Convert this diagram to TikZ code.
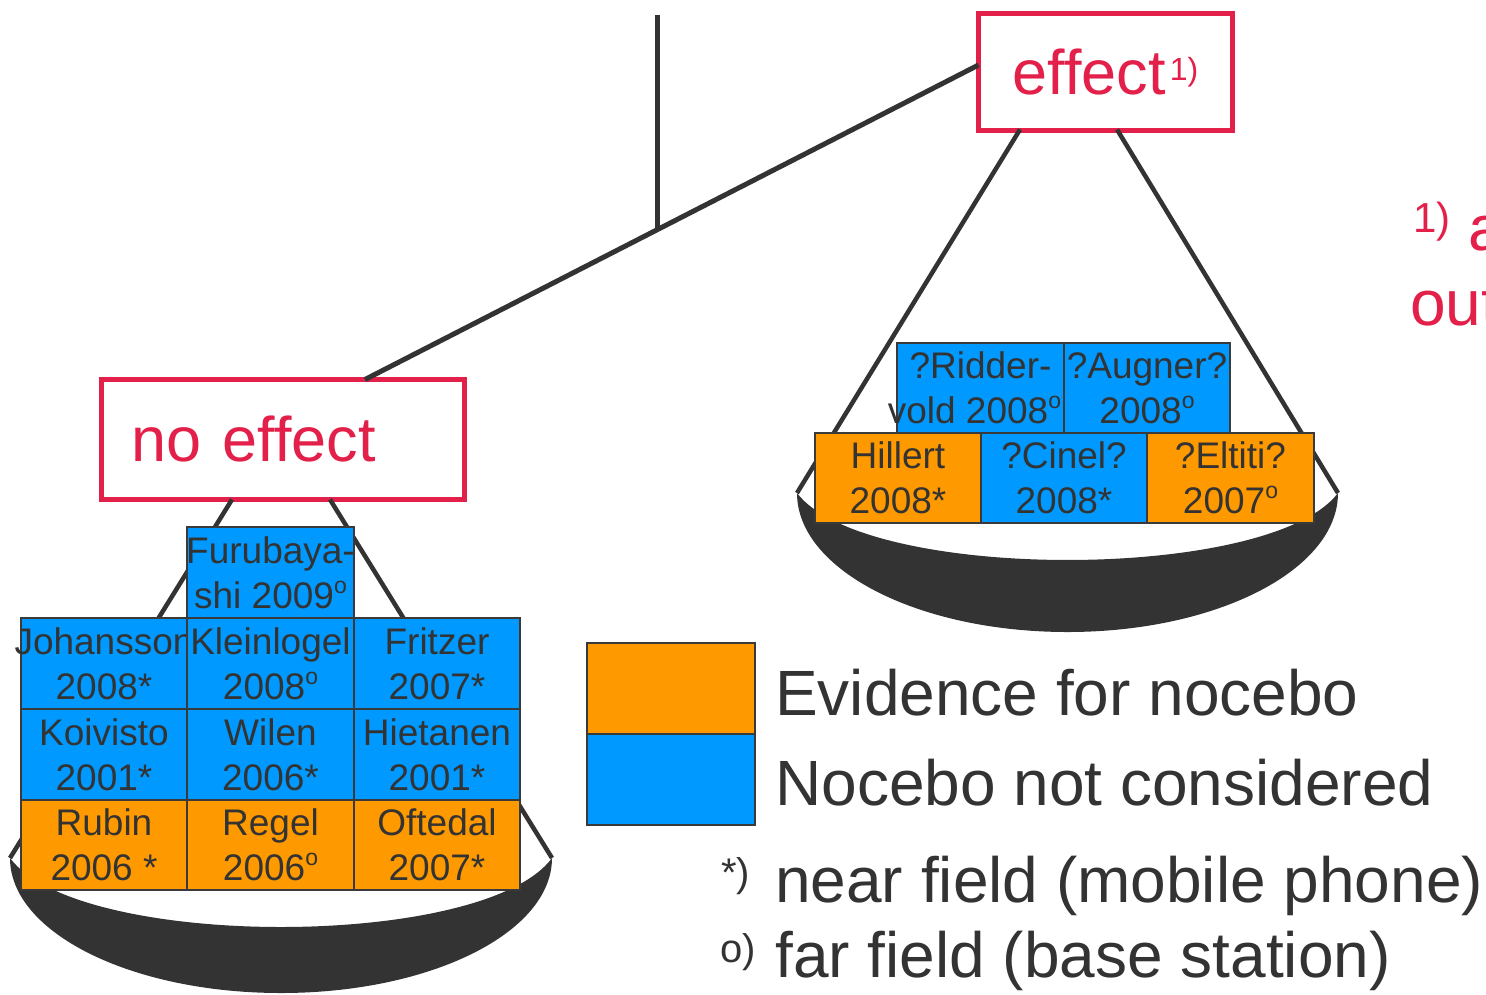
\documentclass[tikz,border=0pt]{standalone}
\usepackage{fontspec}
\setmainfont{Liberation Sans}
\usetikzlibrary{calc}
\definecolor{ink}{HTML}{333333}
\definecolor{alarm}{HTML}{E22049}
\definecolor{evid}{HTML}{FF9900}
\definecolor{nocons}{HTML}{0099FF}
\definecolor{edge}{HTML}{3A3A3A}
\newcommand{\supmark}[3]{\raisebox{#2}{\fontsize{#1}{#1}\selectfont #3}}
\newcommand{\farf}{\supmark{23}{15pt}{o}}

\begin{document}
\begin{tikzpicture}[x=1pt, y=-1pt,
	study/.style={draw=edge, line width=1.6pt, minimum width=166.5pt, minimum height=90.5pt, inner sep=0pt, align=center, text=ink, font=\fontsize{37}{45}\selectfont},
	nocebo/.style={study, fill=evid},
	notcons/.style={study, fill=nocons},
	verdict/.style={draw=alarm, line width=5pt, text=alarm, inner sep=0pt, font=\fontsize{63}{70}\selectfont},
	rope/.style={draw=ink, line width=4.5pt},
	legend/.style={anchor=base west, inner sep=0pt, text=ink, font=\fontsize{64}{70}\selectfont}]
			%%%%% START %%%%%
			\useasboundingbox (0, 0) rectangle (1486, 994);
			\fill[white] (0, 0) rectangle (1486, 994);
			\clip (0, 0) rectangle (1486, 994);
			
			\node[verdict, minimum width=363pt, minimum height=120pt, text width=303pt, align=left] (noeffect) at (283, 439.5) {no effect};
			\node[verdict, minimum width=254pt, minimum height=117pt] (effect) at (1105.5, 72) {effect\hspace{4pt}\supmark{32}{14pt}{1)}};
			
			% beam and post
			\coordinate (top) at (657, 15);
			\coordinate (pivot) at (657, 228);
			\coordinate (beamL) at (365, 379.5);
			\coordinate (beamR) at (978.5, 65);
			\draw[rope, line width=5pt] (top) -- (pivot);
			\draw[rope, line width=5pt] (beamL) -- (beamR);
			
			% left pan
			\coordinate (hookLa) at (232, 499.5);
			\coordinate (hookLb) at (330, 499.5);
			\coordinate (panLa) at (10, 858);
			\coordinate (panLb) at (552, 858);
			\draw[rope] (hookLa) -- (panLa);
			\draw[rope] (hookLb) -- (panLb);
			\fill[ink] (panLa) .. controls (10, 932.6) and (131.3, 993) .. (281, 993)
				.. controls (430.7, 993) and (552, 932.6) .. (panLb)
				.. controls (484.25, 950) and (77.75, 950) .. (panLa) -- cycle;
			
			% right pan
			\coordinate (hookRa) at (1020, 129.5);
			\coordinate (hookRb) at (1117, 129.5);
			\coordinate (panRa) at (797, 493);
			\coordinate (panRb) at (1338, 493);
			\draw[rope] (hookRa) -- (panRa);
			\draw[rope] (hookRb) -- (panRb);
			\fill[ink] (panRa) .. controls (797, 569.8) and (918.1, 632) .. (1067.5, 632)
				.. controls (1216.9, 632) and (1338, 569.8) .. (panRb)
				.. controls (1270.4, 582.3) and (864.6, 582.3) .. (panRa) -- cycle;
			
			% studies, no effect
			\node[notcons] (furu) at (270.5, 572.5) {\makebox[0pt]{Furubaya-}\\shi 2009\farf};
			\node[notcons] (joha) at (104, 663.5) {\makebox[0pt]{Johansson}\\2008*};
			\node[notcons] (klei) at (270.5, 663.5) {Kleinlogel\\2008\farf};
			\node[notcons] (fritz) at (437, 663.5) {Fritzer\\2007*};
			\node[notcons] (koiv) at (104, 754.5) {Koivisto\\2001*};
			\node[notcons] (wile) at (270.5, 754.5) {Wilen\\2006*};
			\node[notcons] (hiet) at (437, 754.5) {Hietanen\\2001*};
			\node[nocebo] (rubi) at (104, 845) {Rubin\\2006 *};
			\node[nocebo] (rege) at (270.5, 845) {Regel\\2006\farf};
			\node[nocebo] (ofte) at (437, 845) {Oftedal\\2007*};
			
			% studies, effect
			\node[notcons] (ridd) at (980.5, 388) {?Ridder-\\\makebox[0pt]{\hspace*{-12pt}vold 2008\farf}};
			\node[notcons] (augn) at (1147, 388) {?Augner?\\2008\farf};
			\node[nocebo] (hill) at (898, 478) {Hillert\\2008*};
			\node[notcons] (cine) at (1064, 478) {?Cinel?\\2008*};
			\node[nocebo] (elti) at (1230.5, 478) {?Eltiti?\\2007\farf};
			
			% legend
			\node[nocebo, minimum height=91pt, minimum width=168pt] (keyEv) at (671, 688.5) {};
			\node[notcons, minimum height=91pt, minimum width=168pt] (keyNc) at (671, 779.5) {};
			\node[legend] (txtEv) at (775, 715) {Evidence for nocebo};
			\node[legend] (txtNc) at (775, 805) {Nocebo not considered};
			\node[legend] (markNear) at (721, 902) {\supmark{40}{16pt}{*)}};
			\node[legend] (txtNear) at (775, 902) {near field (mobile phone)};
			\node[legend] (markFar) at (720, 977) {\supmark{40}{15pt}{o)}};
			\node[legend] (txtFar) at (775, 977) {far field (base station)};
			
			% footnote, cut off at the right
			\node[legend, text=alarm] (fnA) at (1413, 250) {\supmark{42}{18pt}{1)} a};
			\node[legend, text=alarm] (fnB) at (1410, 325) {out};
			%%%%% END %%%%%
\end{tikzpicture}
\end{document}
